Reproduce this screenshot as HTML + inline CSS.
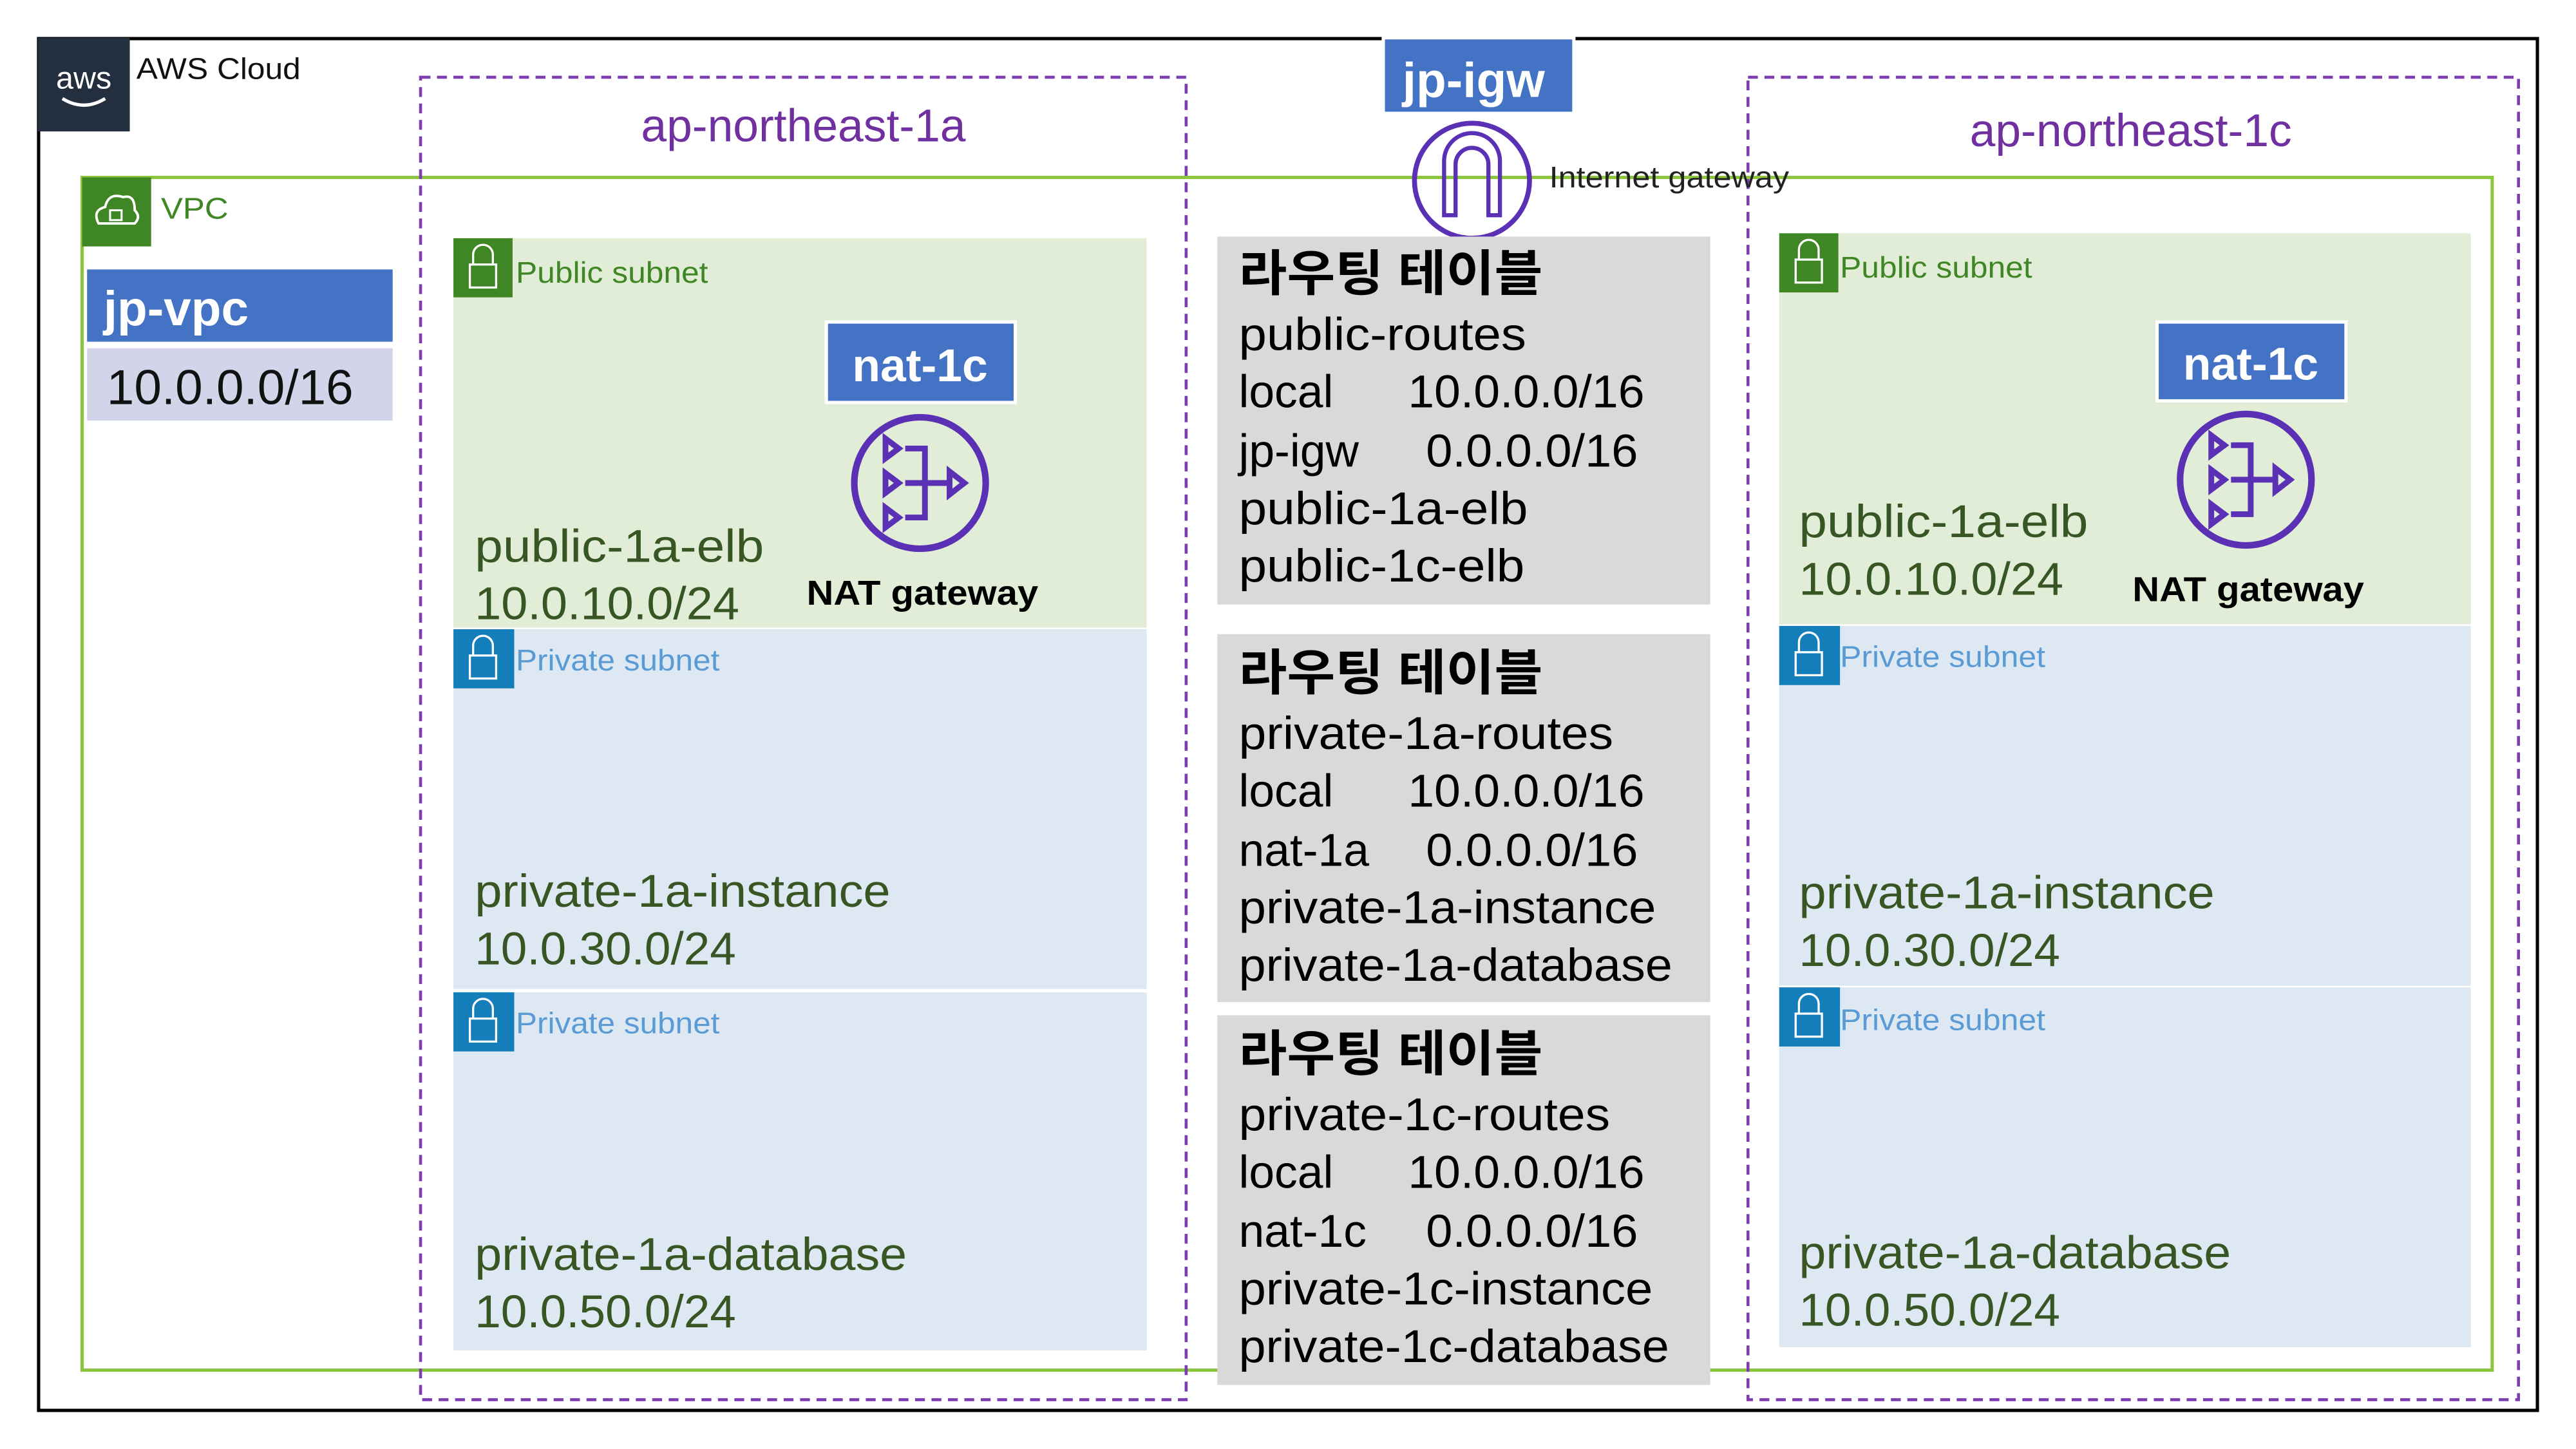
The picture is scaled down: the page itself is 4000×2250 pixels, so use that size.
<!DOCTYPE html>
<html><head><meta charset="utf-8"><style>html,body{margin:0;padding:0;background:#fff}svg{display:block}</style></head>
<body>
<svg xmlns="http://www.w3.org/2000/svg" width="4000" height="2250" viewBox="0 0 1568 882" preserveAspectRatio="none" font-family="'Liberation Sans','Noto Sans CJK KR',sans-serif">
<defs>
<g id="nat">
<circle cx="0" cy="0" r="40" fill="none" stroke="#5A30B5" stroke-width="4"/>
<g fill="none" stroke="#5A30B5" stroke-width="3.5">
<path d="M-21,-27 L-13,-21 L-21,-15 Z"/>
<path d="M-21,-6 L-13,0 L-21,6 Z"/>
<path d="M-21,15 L-13,21 L-21,27 Z"/>
<path d="M-9,-21 H3 V21 H-9 M-9,0 H18"/>
<path d="M18,-7 L27,0 L18,7 Z"/>
</g>
</g>
</defs>
<!-- AWS cloud -->
<rect x="23.5" y="23.5" width="1521" height="835" fill="none" stroke="#000" stroke-width="2"/>
<rect x="23" y="23" width="56" height="57" fill="#232F3E"/>
<text x="51" y="54" font-size="19" fill="#fff" text-anchor="middle">aws</text>
<path d="M38,60 Q51,68 64,60" fill="none" stroke="#fff" stroke-width="2"/>
<text x="83" y="48" font-size="18" fill="#111" textLength="100" lengthAdjust="spacingAndGlyphs">AWS Cloud</text>
<!-- VPC -->
<rect x="50" y="108" width="1467" height="726" fill="none" stroke="#8CC63F" stroke-width="2"/>
<rect x="50" y="108" width="42" height="42" fill="#3F8624"/>
<path d="M60,136 Q56,128 64,126 Q66,117 75,120 Q82,118 82,128 Q86,132 82,136 Z" fill="none" stroke="#fff" stroke-width="1.5"/>
<rect x="67" y="128" width="7" height="6" fill="none" stroke="#fff" stroke-width="1.2"/>
<text x="98" y="133" font-size="18" fill="#3F8624" textLength="41" lengthAdjust="spacingAndGlyphs">VPC</text>
<rect x="53" y="164" width="186" height="44" fill="#4472C4"/>
<text x="63" y="198" font-size="30" font-weight="bold" fill="#fff">jp-vpc</text>
<rect x="53" y="212" width="186" height="44" fill="#D2D5EA"/>
<text x="65" y="246" font-size="30" fill="#111">10.0.0.0/16</text>
<!-- AZ dashed -->
<rect x="256" y="47" width="466" height="805" fill="none" stroke="#7D3CB0" stroke-width="1.8" stroke-dasharray="6,4"/>
<rect x="1064" y="47" width="469" height="805" fill="none" stroke="#7D3CB0" stroke-width="1.8" stroke-dasharray="6,4"/>
<text x="489" y="86" font-size="28" fill="#7030A0" text-anchor="middle">ap-northeast-1a</text>
<text x="1297" y="89" font-size="28" fill="#7030A0" text-anchor="middle">ap-northeast-1c</text>
<!-- Left column subnets -->
<rect x="276" y="145" width="422" height="237" fill="#E2EDD8"/>
<rect x="276" y="145" width="36" height="36" fill="#3F8624"/>
<path d="M288,161 V155 A6,6 0 0 1 300,155 V161" fill="none" stroke="#fff" stroke-width="1.3"/>
<rect x="286" y="161" width="16" height="14" fill="none" stroke="#fff" stroke-width="1.3"/>
<text x="314" y="172" font-size="18" fill="#3F8624" textLength="117" lengthAdjust="spacingAndGlyphs">Public subnet</text>
<rect x="502" y="195" width="117" height="51" fill="#fff"/>
<rect x="504" y="197" width="113" height="47" fill="#4472C4"/>
<text x="560" y="232" font-size="28" font-weight="bold" fill="#fff" text-anchor="middle">nat-1c</text>
<use href="#nat" x="560" y="294"/>
<text x="491" y="368" font-size="21" font-weight="bold" fill="#000" textLength="141" lengthAdjust="spacingAndGlyphs">NAT gateway</text>
<text x="289" y="342" font-size="28" fill="#375623" textLength="176" lengthAdjust="spacingAndGlyphs">public-1a-elb</text>
<text x="289" y="377" font-size="28" fill="#375623" textLength="161" lengthAdjust="spacingAndGlyphs">10.0.10.0/24</text>

<rect x="276" y="383" width="422" height="219" fill="#DEE8F3"/>
<rect x="276" y="383" width="37" height="36" fill="#147EBA"/>
<path d="M288,399 V393 A6,6 0 0 1 300,393 V399" fill="none" stroke="#fff" stroke-width="1.3"/>
<rect x="286" y="399" width="16" height="14" fill="none" stroke="#fff" stroke-width="1.3"/>
<text x="314" y="408" font-size="18" fill="#5A9BD5" textLength="124" lengthAdjust="spacingAndGlyphs">Private subnet</text>
<text x="289" y="552" font-size="28" fill="#375623" textLength="253" lengthAdjust="spacingAndGlyphs">private-1a-instance</text>
<text x="289" y="587" font-size="28" fill="#375623" textLength="159" lengthAdjust="spacingAndGlyphs">10.0.30.0/24</text>

<rect x="276" y="604" width="422" height="218" fill="#DEE8F3"/>
<rect x="276" y="604" width="37" height="36" fill="#147EBA"/>
<path d="M288,620 V614 A6,6 0 0 1 300,614 V620" fill="none" stroke="#fff" stroke-width="1.3"/>
<rect x="286" y="620" width="16" height="14" fill="none" stroke="#fff" stroke-width="1.3"/>
<text x="314" y="629" font-size="18" fill="#5A9BD5" textLength="124" lengthAdjust="spacingAndGlyphs">Private subnet</text>
<text x="289" y="773" font-size="28" fill="#375623" textLength="263" lengthAdjust="spacingAndGlyphs">private-1a-database</text>
<text x="289" y="808" font-size="28" fill="#375623" textLength="159" lengthAdjust="spacingAndGlyphs">10.0.50.0/24</text>

<!-- Right column subnets -->
<rect x="1083" y="142" width="421" height="238" fill="#E2EDD8"/>
<rect x="1083" y="142" width="36" height="36" fill="#3F8624"/>
<path d="M1095,158 V152 A6,6 0 0 1 1107,152 V158" fill="none" stroke="#fff" stroke-width="1.3"/>
<rect x="1093" y="158" width="16" height="14" fill="none" stroke="#fff" stroke-width="1.3"/>
<text x="1120" y="169" font-size="18" fill="#3F8624" textLength="117" lengthAdjust="spacingAndGlyphs">Public subnet</text>
<rect x="1312" y="195" width="117" height="50" fill="#fff"/>
<rect x="1314" y="197" width="113" height="46" fill="#4472C4"/>
<text x="1370" y="231" font-size="28" font-weight="bold" fill="#fff" text-anchor="middle">nat-1c</text>
<use href="#nat" x="1367" y="292"/>
<text x="1298" y="366" font-size="21" font-weight="bold" fill="#000" textLength="141" lengthAdjust="spacingAndGlyphs">NAT gateway</text>
<text x="1095" y="327" font-size="28" fill="#375623" textLength="176" lengthAdjust="spacingAndGlyphs">public-1a-elb</text>
<text x="1095" y="362" font-size="28" fill="#375623" textLength="161" lengthAdjust="spacingAndGlyphs">10.0.10.0/24</text>

<rect x="1083" y="381" width="421" height="219" fill="#DEE8F3"/>
<rect x="1083" y="381" width="37" height="36" fill="#147EBA"/>
<path d="M1095,397 V391 A6,6 0 0 1 1107,391 V397" fill="none" stroke="#fff" stroke-width="1.3"/>
<rect x="1093" y="397" width="16" height="14" fill="none" stroke="#fff" stroke-width="1.3"/>
<text x="1120" y="406" font-size="18" fill="#5A9BD5" textLength="125" lengthAdjust="spacingAndGlyphs">Private subnet</text>
<text x="1095" y="553" font-size="28" fill="#375623" textLength="253" lengthAdjust="spacingAndGlyphs">private-1a-instance</text>
<text x="1095" y="588" font-size="28" fill="#375623" textLength="159" lengthAdjust="spacingAndGlyphs">10.0.30.0/24</text>

<rect x="1083" y="601" width="421" height="219" fill="#DEE8F3"/>
<rect x="1083" y="601" width="37" height="36" fill="#147EBA"/>
<path d="M1095,617 V611 A6,6 0 0 1 1107,611 V617" fill="none" stroke="#fff" stroke-width="1.3"/>
<rect x="1093" y="617" width="16" height="14" fill="none" stroke="#fff" stroke-width="1.3"/>
<text x="1120" y="627" font-size="18" fill="#5A9BD5" textLength="125" lengthAdjust="spacingAndGlyphs">Private subnet</text>
<text x="1095" y="772" font-size="28" fill="#375623" textLength="263" lengthAdjust="spacingAndGlyphs">private-1a-database</text>
<text x="1095" y="807" font-size="28" fill="#375623" textLength="159" lengthAdjust="spacingAndGlyphs">10.0.50.0/24</text>

<!-- IGW -->
<rect x="841" y="22" width="118" height="48" fill="#fff"/>
<rect x="843" y="24" width="114" height="44" fill="#4472C4"/>
<text x="897" y="59" font-size="30" font-weight="bold" fill="#fff" text-anchor="middle">jp-igw</text>
<circle cx="896" cy="110" r="35" fill="none" stroke="#5A30B5" stroke-width="3"/>
<path d="M879,131 V98 A17,17 0 0 1 913,98 V131 H906 V100 A10,10 0 0 0 886,100 V131 Z" fill="none" stroke="#5A30B5" stroke-width="2.5"/>
<text x="943" y="114" font-size="18" fill="#222" textLength="146" lengthAdjust="spacingAndGlyphs">Internet gateway</text>

<!-- Route tables -->
<g font-size="28" fill="#000">
<rect x="741" y="144" width="300" height="224" fill="#D9D9D9"/>
<text x="754" y="177" font-size="30" font-weight="bold" textLength="185" lengthAdjust="spacingAndGlyphs">라우팅 테이블</text>
<text x="754" y="213" textLength="175" lengthAdjust="spacingAndGlyphs">public-routes</text>
<text x="754" y="248">local</text><text x="857" y="248" textLength="144" lengthAdjust="spacingAndGlyphs">10.0.0.0/16</text>
<text x="754" y="284">jp-igw</text><text x="868" y="284" textLength="129" lengthAdjust="spacingAndGlyphs">0.0.0.0/16</text>
<text x="754" y="319" textLength="176" lengthAdjust="spacingAndGlyphs">public-1a-elb</text>
<text x="754" y="354" textLength="174" lengthAdjust="spacingAndGlyphs">public-1c-elb</text>

<rect x="741" y="386" width="300" height="224" fill="#D9D9D9"/>
<text x="754" y="420" font-size="30" font-weight="bold" textLength="185" lengthAdjust="spacingAndGlyphs">라우팅 테이블</text>
<text x="754" y="456" textLength="228" lengthAdjust="spacingAndGlyphs">private-1a-routes</text>
<text x="754" y="491">local</text><text x="857" y="491" textLength="144" lengthAdjust="spacingAndGlyphs">10.0.0.0/16</text>
<text x="754" y="527">nat-1a</text><text x="868" y="527" textLength="129" lengthAdjust="spacingAndGlyphs">0.0.0.0/16</text>
<text x="754" y="562" textLength="254" lengthAdjust="spacingAndGlyphs">private-1a-instance</text>
<text x="754" y="597" textLength="264" lengthAdjust="spacingAndGlyphs">private-1a-database</text>

<rect x="741" y="618" width="300" height="225" fill="#D9D9D9"/>
<text x="754" y="652" font-size="30" font-weight="bold" textLength="185" lengthAdjust="spacingAndGlyphs">라우팅 테이블</text>
<text x="754" y="688" textLength="226" lengthAdjust="spacingAndGlyphs">private-1c-routes</text>
<text x="754" y="723">local</text><text x="857" y="723" textLength="144" lengthAdjust="spacingAndGlyphs">10.0.0.0/16</text>
<text x="754" y="759">nat-1c</text><text x="868" y="759" textLength="129" lengthAdjust="spacingAndGlyphs">0.0.0.0/16</text>
<text x="754" y="794" textLength="252" lengthAdjust="spacingAndGlyphs">private-1c-instance</text>
<text x="754" y="829" textLength="262" lengthAdjust="spacingAndGlyphs">private-1c-database</text>
</g>
</svg>
</body></html>
